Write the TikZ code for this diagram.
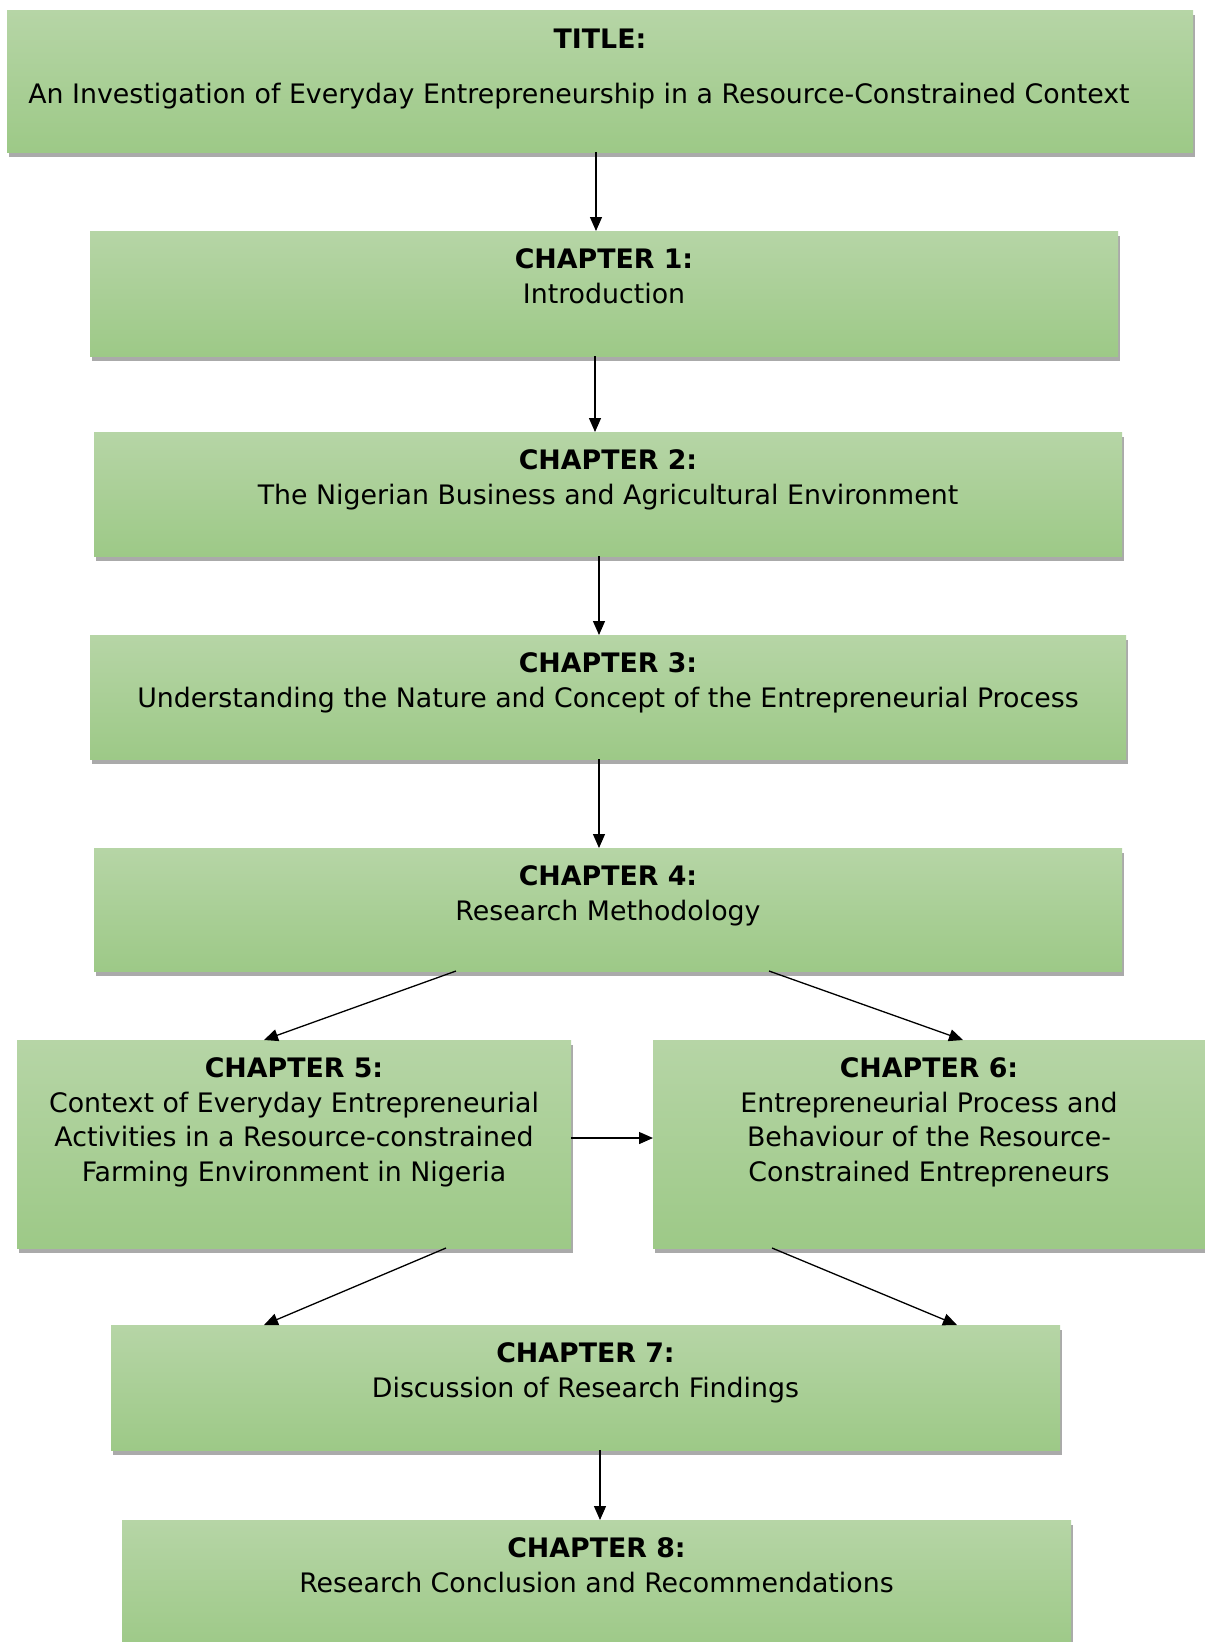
\documentclass[tikz,border=0pt]{standalone}
\usepackage{fontspec}
\setmainfont{DejaVu Sans}
\usetikzlibrary{arrows.meta,shadows,calc}
\definecolor{gtop}{RGB}{182,213,166}
\definecolor{gbot}{RGB}{157,201,135}
\definecolor{shadowgrey}{RGB}{170,170,170}
\begin{document}
\begin{tikzpicture}[x=1pt,y=1pt,
  chbox/.style={rectangle, anchor=north west, inner sep=0pt, outer sep=0pt,
    top color=gtop, bottom color=gbot,
    drop shadow={shadow xshift=1.5pt, shadow yshift=-4.5pt, fill=shadowgrey, opacity=1}},
  chtext/.style={anchor=north, align=center, inner sep=0pt,
    font=\fontsize{26.8}{34.5}\selectfont},
  link/.style={line width=1.3pt, -{Triangle[length=14pt,width=12pt]}}]
\useasboundingbox (0,0) rectangle (1205,-1642);
\fill[white] (0,0) rectangle (1205,-1642);

% boxes
\node[chbox, minimum width=1186pt, minimum height=142pt] (title) at (7,-10) {};
\node[chbox, minimum width=1028pt, minimum height=125pt] (c1) at (90,-231) {};
\node[chbox, minimum width=1028pt, minimum height=124pt] (c2) at (94,-432) {};
\node[chbox, minimum width=1036pt, minimum height=124pt] (c3) at (90,-635) {};
\node[chbox, minimum width=1028pt, minimum height=123pt] (c4) at (94,-848) {};
\node[chbox, minimum width=554pt, minimum height=208pt] (c5) at (17,-1040) {};
\node[chbox, minimum width=552pt, minimum height=208pt] (c6) at (653,-1040) {};
\node[chbox, minimum width=949pt, minimum height=125pt] (c7) at (111,-1325) {};
\node[chbox, minimum width=949pt, minimum height=130pt] (c8) at (122,-1520) {};

% texts
\node[chtext] (title-t) at ([yshift=-18.5pt]title.north)
  {\textbf{TITLE:}\\[20.5pt]\hspace*{-42pt}An Investigation of Everyday Entrepreneurship in a Resource-Constrained Context};
\node[chtext] (c1-t) at ([yshift=-17.5pt]c1.north) {\textbf{CHAPTER 1:}\\Introduction};
\node[chtext] (c2-t) at ([yshift=-17.5pt]c2.north) {\textbf{CHAPTER 2:}\\The Nigerian Business and Agricultural Environment};
\node[chtext] (c3-t) at ([yshift=-17.5pt]c3.north) {\textbf{CHAPTER 3:}\\Understanding the Nature and Concept of the Entrepreneurial Process};
\node[chtext] (c4-t) at ([yshift=-17.5pt]c4.north) {\textbf{CHAPTER 4:}\\Research Methodology};
\node[chtext] (c5-t) at ([yshift=-17.5pt]c5.north) {\textbf{CHAPTER 5:}\\Context of Everyday Entrepreneurial\\Activities in a Resource-constrained\\Farming Environment in Nigeria};
\node[chtext] (c6-t) at ([yshift=-17.5pt]c6.north) {\textbf{CHAPTER 6:}\\Entrepreneurial Process and\\Behaviour of the Resource-\\Constrained Entrepreneurs};
\node[chtext] (c7-t) at ([yshift=-17.5pt]c7.north) {\textbf{CHAPTER 7:}\\Discussion of Research Findings};
\node[chtext] (c8-t) at ([yshift=-17.5pt]c8.north) {\textbf{CHAPTER 8:}\\Research Conclusion and Recommendations};

% connectors
\draw[link] ([xshift=-4pt]title.south) -- ([xshift=-8pt]c1.north);
\draw[link] ([xshift=-9pt]c1.south) -- ([xshift=-13pt]c2.north);
\draw[link] ([xshift=-9pt]c2.south) -- ([xshift=-9pt]c3.north);
\draw[link] ([xshift=-9pt]c3.south) -- ([xshift=-9pt]c4.north);
\draw[link] ([xshift=-152pt]c4.south) -- ([xshift=-30pt]c5.north);
\draw[link] ([xshift=161pt]c4.south) -- ([xshift=34pt]c6.north);
\draw[link] ([yshift=6pt]c5.east) -- ([yshift=6pt]c6.west);
\draw[link] ([xshift=152pt]c5.south) -- ([xshift=-321.5pt]c7.north);
\draw[link] ([xshift=-157pt]c6.south) -- ([xshift=371.5pt]c7.north);
\draw[link] ([xshift=14.5pt]c7.south) -- ([xshift=3.5pt]c8.north);
\end{tikzpicture}
\end{document}
